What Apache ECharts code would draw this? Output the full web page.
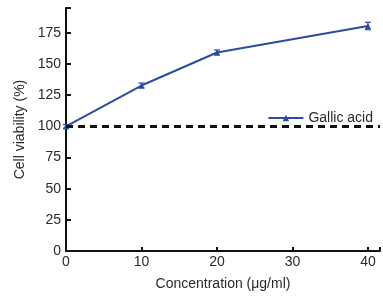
<!DOCTYPE html>
<html><head><meta charset="utf-8">
<script src="https://cdn.jsdelivr.net/npm/echarts@6/dist/echarts.min.js"></script>
<style>html,body{margin:0;padding:0;background:#fff}#c{width:383px;height:296px}</style>
</head><body><div id="c"></div>
<script>
const concentrations = [0, 10, 20, 40];
const viability = [100, 132.8, 159.3, 180.6];
const errors = [1.5, 2, 2, 3];
const xTicks = [0, 10, 20, 30, 40];
const yTicks = [0, 25, 50, 75, 100, 125, 150, 175];
const controlLevel = 100;

const chart = echarts.init(document.getElementById('c'));
const blue = '#2a4da3';
const font = 'Liberation Sans, Arial, sans-serif';
const txt = '#2a2a2a';
chart.setOption({
  animation: false,
  grid: {left: 66, right: 1, top: 8, bottom: 39, containLabel: false},
  legend: {
    show: true,
    data: ['Gallic acid'],
    right: 5, top: 106, itemWidth: 35, itemHeight: 8, itemGap: 2,
    textStyle: {fontFamily: font, fontSize: 14, color: txt}
  },
  xAxis: {
    type: 'value', min: 0, max: 41.6, interval: 10,
    name: 'Concentration (μg/ml)', nameLocation: 'middle', nameGap: 26,
    nameTextStyle: {fontFamily: font, fontSize: 14, color: txt},
    axisLine: {lineStyle: {color: '#111', width: 2}},
    axisTick: {inside: true, length: 4, lineStyle: {color: '#111', width: 2}},
    axisLabel: {margin: 4, fontFamily: font, fontSize: 14, color: txt,
      formatter: v => xTicks.includes(v) ? String(v) : ''},
    splitLine: {show: false}
  },
  yAxis: {
    type: 'value', min: 0, max: 195, interval: 25,
    name: 'Cell viability (%)', nameLocation: 'middle', nameGap: 39,
    nameTextStyle: {fontFamily: font, fontSize: 14, color: txt},
    axisLine: {show: true, lineStyle: {color: '#111', width: 2}},
    axisTick: {show: true, inside: true, length: 5, lineStyle: {color: '#111', width: 2}},
    axisLabel: {margin: 5, fontFamily: font, fontSize: 14, color: txt,
      formatter: v => yTicks.includes(v) ? String(v) : ''},
    splitLine: {show: false}
  },
  series: [
    {
      type: 'line', name: 'Gallic acid', data: concentrations.map((c, i) => [c, viability[i]]),
      symbol: 'triangle', symbolSize: 6, showSymbol: true,
      lineStyle: {color: blue, width: 2}, itemStyle: {color: blue},
      z: 3,
      markLine: {
        silent: true, symbol: 'none', label: {show: false},
        lineStyle: {color: '#111', type: [7, 5], width: 3},
        data: [{yAxis: controlLevel}]
      }
    },
    {
      type: 'custom', name: 'err',
      data: concentrations.map((c, i) => [c, viability[i] - errors[i], viability[i] + errors[i]]),
      renderItem: (params, api) => {
        const lo = api.coord([api.value(0), api.value(1)]);
        const hi = api.coord([api.value(0), api.value(2)]);
        const w = 3;
        const st = {stroke: blue, lineWidth: 1.2};
        return {type: 'group', children: [
          {type: 'line', shape: {x1: lo[0], y1: lo[1], x2: hi[0], y2: hi[1]}, style: st},
          {type: 'line', shape: {x1: lo[0]-w, y1: lo[1], x2: lo[0]+w, y2: lo[1]}, style: st},
          {type: 'line', shape: {x1: hi[0]-w, y1: hi[1], x2: hi[0]+w, y2: hi[1]}, style: st}
        ]};
      },
      z: 4
    }
  ]
});
</script></body></html>
